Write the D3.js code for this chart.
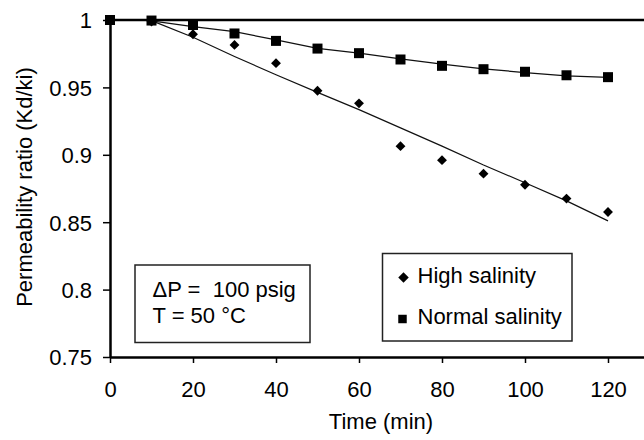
<!DOCTYPE html>
<html>
<head>
<meta charset="utf-8">
<script src="https://cdn.jsdelivr.net/npm/d3@7"></script>
<style>
  html, body { margin: 0; padding: 0; background: #fff; }
  svg { display: block; }
  text { font-family: "Liberation Sans", Arial, sans-serif; fill: #000; }
</style>
</head>
<body>
<svg id="chart" width="644" height="440"></svg>
<script>
// ---- data ----
const times = [0, 10, 20, 30, 40, 50, 60, 70, 80, 90, 100, 110, 120];
const highSalinity = [1.0, 0.9988, 0.9894, 0.9815, 0.968, 0.9475, 0.9382, 0.9064, 0.896, 0.886, 0.8778, 0.8675, 0.8576];
const normalSalinity = [1.0, 0.9996, 0.9963, 0.990, 0.9845, 0.9788, 0.9754, 0.9707, 0.966, 0.9635, 0.9616, 0.959, 0.9576];
const fitTimes = [10, 20, 30, 40, 50, 60, 70, 80, 90, 100, 110, 120];
const highFit = [0.9995, 0.9872, 0.9729, 0.9594, 0.9463, 0.9335, 0.920, 0.9064, 0.8924, 0.8793, 0.8658, 0.851];
const normalFit = [0.9993, 0.9951, 0.9914, 0.9852, 0.979, 0.9754, 0.9712, 0.9672, 0.9638, 0.961, 0.9586, 0.9574];
const xTicks = [0, 20, 40, 60, 80, 100, 120];
const yTicks = [0.75, 0.8, 0.85, 0.9, 0.95, 1];
const legendLabels = ["High salinity", "Normal salinity"];
const noteLines = ["\u0394P =  100 psig", "T = 50 \u00B0C"];

// ---- layout ----
const svg = d3.select("#chart");
const x = d3.scaleLinear().domain([0, 130]).range([110, 649.5]);
const y = d3.scaleLinear().domain([0.75, 1]).range([357, 20]);
const fs = 22;

// x axis
const xAxis = svg.append("g").attr("transform", `translate(0,${y(0.75)})`)
  .call(d3.axisBottom(x).tickValues(xTicks).tickSize(6).tickSizeOuter(0).tickFormat(d3.format("d")));
xAxis.select(".domain").attr("stroke", "#000").attr("stroke-width", 2.5);
xAxis.selectAll(".tick line").attr("stroke", "#000").attr("stroke-width", 1.5);
xAxis.selectAll(".tick text").attr("font-size", fs).attr("dy", null).attr("y", 40)
  .attr("font-family", "Liberation Sans, Arial, sans-serif").attr("fill", "#000");

// y axis
const yAxis = svg.append("g").attr("transform", `translate(${x(0)},0)`)
  .call(d3.axisLeft(y).tickValues(yTicks).tickSize(7).tickSizeOuter(0).tickFormat(d => d === 1 ? "1" : d3.format("")(d)));
yAxis.select(".domain").attr("stroke", "#000").attr("stroke-width", 2.5);
yAxis.selectAll(".tick line").attr("stroke", "#000").attr("stroke-width", 1.5);
yAxis.selectAll(".tick text").attr("font-size", fs).attr("x", -18).attr("dy", "0.36em")
  .attr("font-family", "Liberation Sans, Arial, sans-serif").attr("fill", "#000");

// top border line at 1.0
svg.append("line").attr("x1", x(0)).attr("x2", 644).attr("y1", y(1)).attr("y2", y(1))
  .attr("stroke", "#000").attr("stroke-width", 2.5);

// axis titles
svg.append("text").attr("x", 381).attr("y", 429).attr("text-anchor", "middle")
  .attr("font-size", fs).text("Time (min)");
svg.append("text").attr("transform", "translate(32,187) rotate(-90)").attr("text-anchor", "middle")
  .attr("font-size", fs).text("Permeability ratio (Kd/ki)");

// fit lines
const line = d3.line().x(d => x(d[0])).y(d => y(d[1]));
svg.append("path").datum(fitTimes.map((t, i) => [t, highFit[i]]))
  .attr("d", line).attr("fill", "none").attr("stroke", "#111").attr("stroke-width", 1.2);
svg.append("path").datum(fitTimes.map((t, i) => [t, normalFit[i]]))
  .attr("d", line).attr("fill", "none").attr("stroke", "#111").attr("stroke-width", 1.2);

// markers
const diamond = d3.symbol().type(d3.symbolDiamond2).size(62);
const square = d3.symbol().type(d3.symbolSquare).size(100);
svg.append("g").selectAll("path").data(times.map((t, i) => [t, highSalinity[i]])).join("path")
  .attr("transform", d => `translate(${x(d[0])},${y(d[1])})`).attr("d", diamond).attr("fill", "#000");
svg.append("g").selectAll("path").data(times.map((t, i) => [t, normalSalinity[i]])).join("path")
  .attr("transform", d => `translate(${x(d[0])},${y(d[1])})`).attr("d", square).attr("fill", "#000");

// annotation box
svg.append("rect").attr("x", 135).attr("y", 265).attr("width", 175).attr("height", 77.5)
  .attr("fill", "#fff").attr("stroke", "#222").attr("stroke-width", 1.5);
noteLines.forEach((s, i) => {
  svg.append("text").attr("x", 152.5).attr("y", 296.7 + i * 26).attr("font-size", fs)
    .attr("xml:space", "preserve").style("white-space", "pre").text(s);
});

// legend
svg.append("rect").attr("x", 382.5).attr("y", 253.5).attr("width", 189.5).attr("height", 87.5)
  .attr("fill", "#fff").attr("stroke", "#222").attr("stroke-width", 1.5);
const legendSyms = [d3.symbol().type(d3.symbolDiamond2).size(70), d3.symbol().type(d3.symbolSquare).size(72)];
const legendY = [277.5, 319];
legendLabels.forEach((s, i) => {
  svg.append("path").attr("transform", `translate(${i === 0 ? 403.5 : 402.5},${legendY[i]})`)
    .attr("d", legendSyms[i]).attr("fill", "#000");
  svg.append("text").attr("x", 417.5).attr("y", legendY[i] + 5.3).attr("font-size", fs).text(s);
});
</script>
</body>
</html>
